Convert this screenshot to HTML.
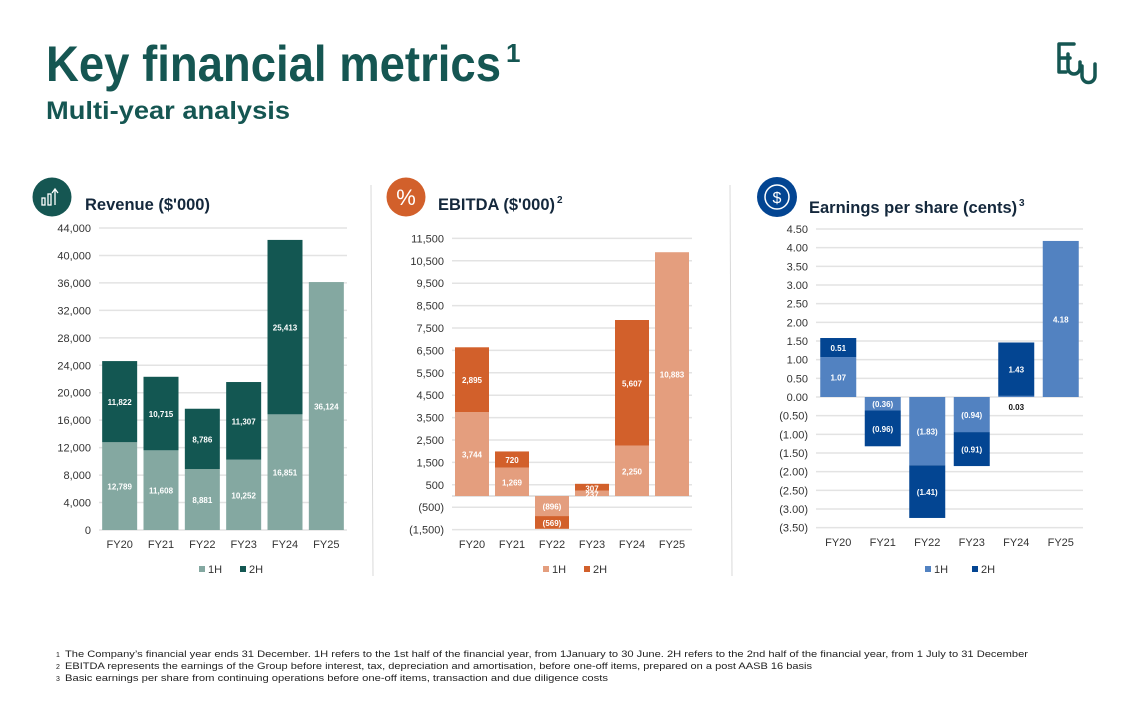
<!DOCTYPE html>
<html><head><meta charset="utf-8"><style>
html,body{margin:0;padding:0;background:#fff;}
svg{display:block;font-family:"Liberation Sans",sans-serif;}
</style></head><body>
<svg id="page" width="1139" height="728" viewBox="0 0 1139 728">
<text x="46" y="81" font-size="50" font-weight="bold" fill="#155652" textLength="455" lengthAdjust="spacingAndGlyphs">Key financial metrics</text>
<text x="506" y="62" font-size="26" font-weight="bold" fill="#155652">1</text>
<text x="46" y="119" font-size="25" font-weight="bold" fill="#155652" textLength="244" lengthAdjust="spacingAndGlyphs">Multi-year analysis</text>
<g fill="none" stroke="#155652" stroke-width="3.5" stroke-linecap="round" stroke-linejoin="round">
<path d="M1074 44 H1059 V72 H1066 M1059 58 H1070"/>
<path d="M1068 54 V68 a6 6 0 0 0 12 0 V62"/>
<path d="M1082 66 V76 a6.5 6.5 0 0 0 13 0 V64"/>
</g>
<line x1="371" y1="185" x2="373" y2="576" stroke="#d9d9d9" stroke-width="1"/>
<line x1="730" y1="185" x2="732" y2="576" stroke="#d9d9d9" stroke-width="1"/>
<g>
<circle cx="52" cy="197" r="19.5" fill="#155652"/>
<g stroke="#fff" stroke-width="1.3" fill="none"><rect x="42" y="198" width="3" height="7"/><rect x="48" y="194" width="3" height="11"/><path d="M55 205 V190 M52 193 L55 189 L58 193"/></g>
<text x="85" y="210" font-size="16.5" font-weight="bold" fill="#14283c">Revenue ($'000)</text>
</g>
<g>
<circle cx="406" cy="197" r="19.5" fill="#d2602b"/>
<text x="406" y="205" font-size="22" fill="#fff" text-anchor="middle">%</text>
<text x="438" y="210" font-size="16.5" font-weight="bold" fill="#14283c">EBITDA ($'000)</text>
<text x="557" y="203" font-size="10" font-weight="bold" fill="#14283c">2</text>
</g>
<g>
<circle cx="777" cy="197" r="20" fill="#034592"/>
<circle cx="777" cy="197" r="12" fill="none" stroke="#fff" stroke-width="1.5"/>
<text x="777" y="203" font-size="16" fill="#fff" text-anchor="middle">$</text>
<text x="809" y="213" font-size="16.5" font-weight="bold" fill="#14283c">Earnings per share (cents)</text>
<text x="1019" y="206" font-size="10" font-weight="bold" fill="#14283c">3</text>
</g>
<g id="charts"></g>
<g font-size="9.5" fill="#222">
<text x="56" y="657" font-size="7">1</text>
<text x="65" y="657" textLength="963" lengthAdjust="spacingAndGlyphs">The Company’s financial year ends 31 December. 1H refers to the 1st half of the financial year, from 1January to 30 June. 2H refers to the 2nd half of the financial year, from 1 July to 31 December</text>
<text x="56" y="669" font-size="7">2</text>
<text x="65" y="669" textLength="747" lengthAdjust="spacingAndGlyphs">EBITDA represents the earnings of the Group before interest, tax, depreciation and amortisation, before one-off items, prepared on a post AASB 16 basis</text>
<text x="56" y="681" font-size="7">3</text>
<text x="65" y="681" textLength="543" lengthAdjust="spacingAndGlyphs">Basic earnings per share from continuing operations before one-off items, transaction and due diligence costs</text>
</g>
</svg>
<script>
const categories = ["FY20","FY21","FY22","FY23","FY24","FY25"];
const revenue1H = [12789, 11608, 8881, 10252, 16851, 36124];
const revenue2H = [11822, 10715, 8786, 11307, 25413, 0];
const revenueTicks = [0,4000,8000,12000,16000,20000,24000,28000,32000,36000,40000,44000];
const ebitda1H = [3744, 1269, -896, 237, 2250, 10883];
const ebitda2H = [2895, 720, -569, 307, 5607, 0];
const ebitdaTicks = [-1500,-500,500,1500,2500,3500,4500,5500,6500,7500,8500,9500,10500,11500];
const eps1H = [1.07, -0.36, -1.83, -0.94, 0.03, 4.18];
const eps2H = [0.51, -0.96, -1.41, -0.91, 1.43, 0];
const epsTicks = [-3.5,-3,-2.5,-2,-1.5,-1,-0.5,0,0.5,1,1.5,2,2.5,3,3.5,4,4.5];

const NS = "http://www.w3.org/2000/svg";
const root = document.getElementById("charts");
function mk(tag, attrs, parent){ const e=document.createElementNS(NS,tag); for(const k in attrs) e.setAttribute(k,attrs[k]); parent.appendChild(e); return e; }
function fmtNum(v,dec){ const s=Math.abs(v).toLocaleString("en-US",{minimumFractionDigits:dec,maximumFractionDigits:dec}); return v<0?"("+s+")":s; }

function drawChart(cfg){
  const g = mk("g",{},root);
  
  
  const y = v => cfg.y0 - (v - cfg.vmin) * (cfg.y0 - cfg.y1) / (cfg.vmax - cfg.vmin);
  const bw = (cfg.x1 - cfg.x0) / categories.length;
  const x = i => cfg.x0 + bw * (i + 0.5);
  cfg.ticks.forEach(t => {
    const l = mk("line",{x1:cfg.x0,x2:cfg.x1,y1:y(t),y2:y(t),stroke:"#e3e3e3","stroke-width":1.5},g);
    
    
    const tx = mk("text",{x:cfg.x0-8,y:y(t)+4,"font-size":11,"text-anchor":"end",fill:"#333"},g);
    
    
    tx.textContent = fmtNum(t, cfg.dec);
  });
  if (cfg.zeroLine){
    const z = mk("line",{x1:cfg.x0,x2:cfg.x1,y1:y(0),y2:y(0),stroke:"#d9d9d9","stroke-width":1.5},g);
    
    
  }
  categories.forEach((c,i) => {
    const a = cfg.s1[i], b = cfg.s2[i];
    const segs = [[0, a, cfg.c1, "bar-1h-"+c.toLowerCase(), a], [a, a+b, cfg.c2, "bar-2h-"+c.toLowerCase(), b]];
    segs.forEach(([v0,v1,col,nm,val]) => {
      if (val === 0) return;
      const top = Math.min(y(v0),y(v1)), h = Math.abs(y(v0)-y(v1));
      const r = mk("rect",{x:x(i)-cfg.w/2,y:top,width:cfg.w,height:h,fill:col},g);
      
      
      const small = h < 8;
      const ly = small ? (cfg.smallBelow ? y(0)+13 : top+h/2+4) : top+h/2+3.5;
      const t = mk("text",{x:x(i),y:ly,"font-size":8,"font-weight":"bold","text-anchor":"middle",fill:(small&&cfg.smallBelow)?"#111":"#fff"},g);
      
      
      t.textContent = fmtNum(val, cfg.dec);
    });
    const xl = mk("text",{x:x(i),y:cfg.catY,"font-size":11,"text-anchor":"middle",fill:"#333"},g);
    
    
    xl.textContent = c;
  });
  const lx = cfg.legendX;
  [["1H",cfg.c1,0],["2H",cfg.c2,cfg.legendGap]].forEach(([lab,col,off]) => {
    const le = mk("g",{},g);
    
    
    mk("rect",{x:lx+off,y:566,width:6,height:6,fill:col},le);
    const t = mk("text",{x:lx+off+9,y:573,"font-size":11,fill:"#333"},le);
    t.textContent = lab;
  });
}

drawChart({name:"revenue-chart",s1:revenue1H,s2:revenue2H,ticks:revenueTicks,vmin:0,vmax:44000,y0:530,y1:228,x0:99,x1:347,w:35,dec:0,c1:"#84a8a1",c2:"#135752",catY:548,legendX:199,legendGap:41});
drawChart({name:"ebitda-chart",s1:ebitda1H,s2:ebitda2H,ticks:ebitdaTicks,vmin:0,vmax:11500,y0:496,y1:238.4,x0:452,x1:692,w:34,dec:0,c1:"#e49e7e",c2:"#d2602b",catY:548,legendX:543,legendGap:41,zeroLine:true});
drawChart({name:"eps-chart",s1:eps1H,s2:eps2H,ticks:epsTicks,vmin:0,vmax:4.5,y0:397,y1:229,x0:816,x1:1083,w:36,dec:2,c1:"#5282c1",c2:"#034592",catY:546,legendX:925,legendGap:47,smallBelow:true});
</script>
</body></html>
